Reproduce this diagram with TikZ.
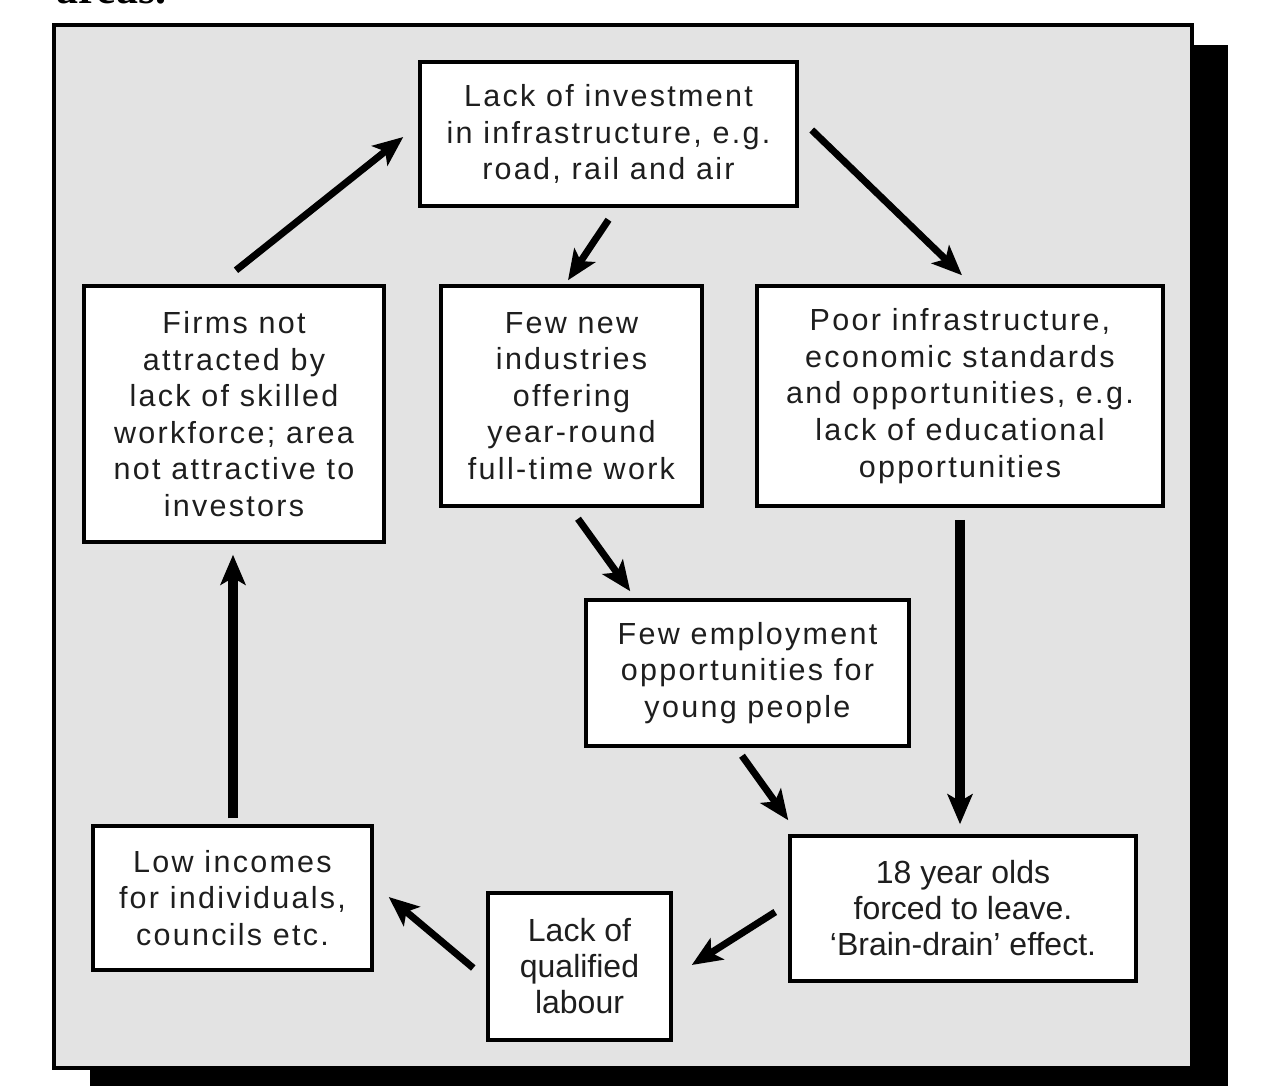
\documentclass[tikz,border=0pt]{standalone}
\usepackage{fontspec}
\setmainfont{Liberation Sans}
\newfontfamily\spacedfont{Liberation Sans}[LetterSpace=7.5]
\newfontfamily\headfont{Liberation Serif}
\usetikzlibrary{arrows.meta}
\definecolor{panelgray}{RGB}{227,227,227}
\definecolor{inkcol}{RGB}{30,30,30}
\begin{document}
\begin{tikzpicture}[x=1pt,y=-1pt,
  box/.style={draw=black, line width=3.5pt, fill=white, align=center, inner sep=0pt, text=inkcol,
    font=\spacedfont\fontsize{30.5}{36.6}\selectfont},
  nbox/.style={box, font=\fontsize{32}{36}\selectfont},
  arr/.style={line width=7pt, -{Stealth[length=30pt,width=25pt,inset=7pt]}},
  varr/.style={arr, line width=9.5pt}]
\useasboundingbox (0,0) rectangle (1283,1086);
% panel with drop shadow
\fill[black] (90,45) rectangle (1228,1088);
\draw[line width=4pt, fill=panelgray] (54,25) rectangle (1192,1068);
\node[anchor=base west, inner sep=0pt, font=\headfont\bfseries\fontsize{44}{44}\selectfont] (head) at (56,3.5) {areas.};
% boxes
\node[box, minimum width=377pt, minimum height=144pt] (T) at (608.5,134)
  {Lack of investment\\in infrastructure, e.g.\\road, rail and air};
\node[box, minimum width=300pt, minimum height=256pt] (F) at (234,414)
  {Firms not\\attracted by\\lack of skilled\\workforce; area\\not attractive to\\investors};
\node[box, minimum width=261pt, minimum height=220pt] (N) at (571.5,396)
  {Few new\\industries\\offering\\year-round\\full-time work};
\node[box, minimum width=406pt, minimum height=220pt] (P) at (960,396)
  {Poor infrastructure,\\economic standards\\and opportunities, e.g.\\lack of educational\\opportunities};
\node[box, minimum width=323pt, minimum height=146pt] (E) at (747.5,673)
  {Few employment\\opportunities for\\young people};
\node[nbox, minimum width=346pt, minimum height=145pt] (Y) at (963,908.5)
  {18 year olds\\forced to leave.\\‘Brain-drain’ effect.};
\node[nbox, minimum width=183pt, minimum height=147pt] (Q) at (579.5,966.5)
  {Lack of\\qualified\\labour};
\node[box, minimum width=279pt, minimum height=144pt] (L) at (232.5,898)
  {Low incomes\\for individuals,\\councils etc.};
% arrows
\draw[arr] ([shift={(2,-14)}]F.north) -- ([shift={(-15,3)}]T.west);
\draw[arr] ([shift={(0,12)}]T.south) -- ([shift={(-3.5,-4)}]N.north);
\draw[arr] ([shift={(13,-4)}]T.east) -- ([shift={(2,-9)}]P.north);
\draw[arr] ([shift={(6.5,11)}]N.south) -- ([shift={(46,-7)}]E.north west);
\draw[varr] ([shift={(0,12)}]P.south) -- ([shift={(-3,-10)}]Y.north);
\draw[arr] ([shift={(-5.5,8)}]E.south) -- ([shift={(0,-14)}]Y.north west);
\draw[arr] ([shift={(-13,3.5)}]Y.west) -- ([shift={(19,-1.5)}]Q.east);
\draw[arr] ([shift={(-13,1.5)}]Q.west) -- ([shift={(15,-1)}]L.east);
\draw[varr] ([shift={(0.5,-6)}]L.north) -- ([shift={(-1,11)}]F.south);
\end{tikzpicture}
\end{document}
